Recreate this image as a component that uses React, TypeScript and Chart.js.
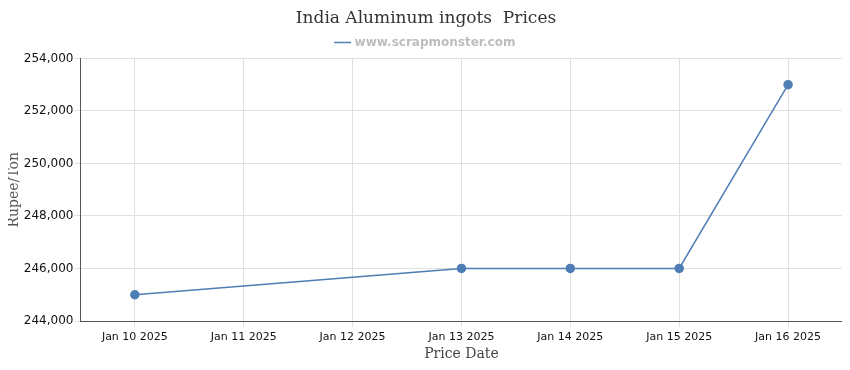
import React, { useEffect, useRef } from "react";
import { Chart, registerables } from "chart.js";

Chart.register(...registerables);

const categories = ["Jan 10 2025", "Jan 11 2025", "Jan 12 2025", "Jan 13 2025", "Jan 14 2025", "Jan 15 2025", "Jan 16 2025"];
const prices: (number | null)[] = [245000, null, null, 246000, 246000, 246000, 253000];
const seriesName = "www.scrapmonster.com";
const titleText = "India Aluminum ingots  Prices";

const W = 848;
const H = 355;

export default function App() {
  const ref = useRef<HTMLCanvasElement | null>(null);
  useEffect(() => {
    if (!ref.current) return;
    const color = "#4f7db5";
    const chart = new Chart(ref.current, {
      type: "line",
      data: {
        labels: categories,
        datasets: [
          {
            label: seriesName,
            data: prices,
            borderColor: color,
            backgroundColor: color,
            pointBackgroundColor: color,
            pointBorderColor: color,
            pointRadius: 4,
            borderWidth: 1.5,
            spanGaps: true,
            tension: 0,
          },
        ],
      },
      options: {
        animation: false,
        responsive: false,
        maintainAspectRatio: false,
        layout: { padding: { left: 6, right: 2, top: 0, bottom: 0 } },
        plugins: {
          title: {
            display: true,
            text: titleText,
            color: "#333",
            font: { family: "'DejaVu Serif', serif", size: 17, weight: "normal" },
            padding: { top: 0, bottom: 0 },
          },
          legend: {
            display: true,
            labels: {
              color: "#bdbdbd",
              font: { family: "'DejaVu Sans', sans-serif", size: 12, weight: "bold" },
              usePointStyle: true,
              pointStyle: "line",
              boxWidth: 16,
              padding: 8,
            },
          },
          tooltip: { enabled: false },
        },
        scales: {
          x: {
            offset: true,
            grid: { color: "#e0e0e0", drawTicks: true, tickLength: 6, offset: false },
            border: { color: "#555", width: 1 },
            ticks: { color: "#111", font: { family: "'DejaVu Sans', sans-serif", size: 11 }, maxRotation: 0, padding: 4 },
            title: {
              display: true,
              text: "Price Date",
              color: "#444",
              font: { family: "'DejaVu Serif', serif", size: 14 },
              padding: { top: -2, bottom: 0 },
            },
          },
          y: {
            min: 244000,
            max: 254000,
            grid: { color: "#e0e0e0", tickLength: 6 },
            border: { color: "#555", width: 1 },
            ticks: { stepSize: 2000, color: "#111", font: { family: "'DejaVu Sans', sans-serif", size: 12 }, padding: 1 },
            title: {
              display: true,
              text: "Rupee/Ton",
              color: "#555",
              font: { family: "'DejaVu Serif', serif", size: 14 },
              padding: { top: 0, bottom: 0 },
            },
          },
        },
      },
    });
    return () => chart.destroy();
  }, []);
  return (
    <div style={{ width: 834, height: H }}>
      <canvas ref={ref} width={W} height={H} style={{ width: W, height: H, display: "block", marginLeft: -8 }} />
    </div>
  );
}
